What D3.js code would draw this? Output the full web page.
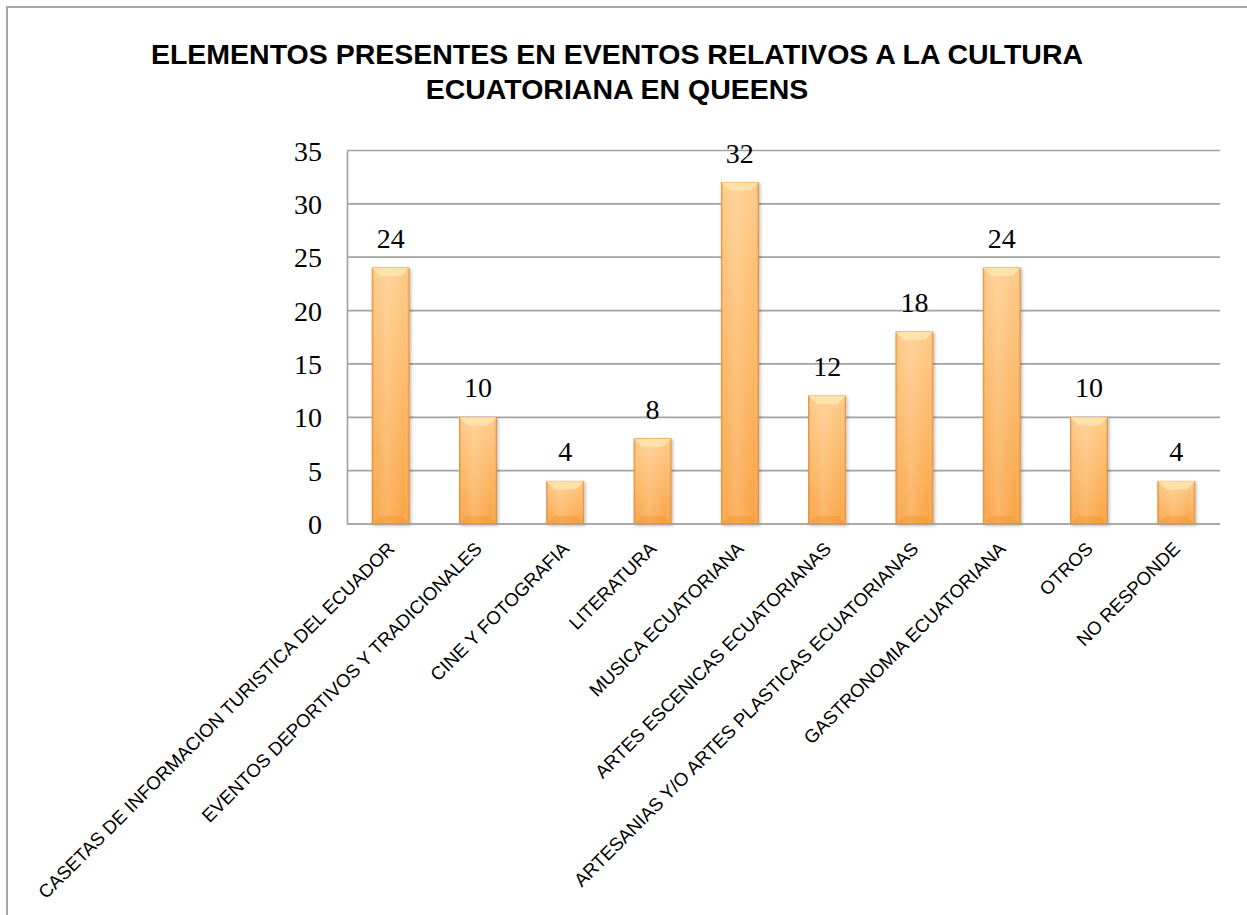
<!DOCTYPE html>
<html>
<head>
<meta charset="utf-8">
<script src="https://cdnjs.cloudflare.com/ajax/libs/d3/7.8.5/d3.min.js"></script>
<style>
  body { margin: 0; background: #fff; }
  #graph { width: 1247px; height: 915px; }
</style>
</head>
<body>
<div id="graph"></div>
<script>
// chart values

var titleLines = [
  'ELEMENTOS PRESENTES EN EVENTOS RELATIVOS A LA CULTURA',
  'ECUATORIANA EN QUEENS'
];

var categories = [
  'CASETAS DE INFORMACION TURISTICA DEL ECUADOR',
  'EVENTOS DEPORTIVOS Y TRADICIONALES',
  'CINE Y FOTOGRAFIA',
  'LITERATURA',
  'MUSICA ECUATORIANA',
  'ARTES ESCENICAS ECUATORIANAS',
  'ARTESANIAS Y/O ARTES PLASTICAS ECUATORIANAS',
  'GASTRONOMIA ECUATORIANA',
  'OTROS',
  'NO RESPONDE'
];

var values = [24, 10, 4, 8, 32, 12, 18, 24, 10, 4];

var yTicks = [0, 5, 10, 15, 20, 25, 30, 35];

var w = 1247;
var h = 915;
var plotLeft = 347;
var plotRight = 1220;
var plotTop = 150.5;
var plotBottom = 524;
var gridColor = '#a3a3a3';

var svg = d3
  .select('#graph')
  .append('svg')
  .attr('width', w)
  .attr('height', h);

// gradients for the bevelled orange bars

var defs = svg.append('defs');

var fillGrad = defs
  .append('linearGradient')
  .attr('id', 'barFill')
  .attr('x1', 0)
  .attr('y1', 0)
  .attr('x2', 0)
  .attr('y2', 1);
fillGrad.append('stop').attr('offset', '0%').attr('stop-color', '#ffcb88');
fillGrad.append('stop').attr('offset', '100%').attr('stop-color', '#f9a444');

var sideGrad = defs
  .append('linearGradient')
  .attr('id', 'barSide')
  .attr('x1', 0)
  .attr('y1', 0)
  .attr('x2', 1)
  .attr('y2', 0);
sideGrad.append('stop').attr('offset', '0%').attr('stop-color', '#d97a1a').attr('stop-opacity', 0.4);
sideGrad.append('stop').attr('offset', '12%').attr('stop-color', '#ffffff').attr('stop-opacity', 0.05);
sideGrad.append('stop').attr('offset', '40%').attr('stop-color', '#ffffff').attr('stop-opacity', 0.18);
sideGrad.append('stop').attr('offset', '88%').attr('stop-color', '#ffffff').attr('stop-opacity', 0);
sideGrad.append('stop').attr('offset', '100%').attr('stop-color', '#d97a1a').attr('stop-opacity', 0.4);

var shadow = defs
  .append('filter')
  .attr('id', 'shadow')
  .attr('x', '-20%')
  .attr('y', '-5%')
  .attr('width', '150%')
  .attr('height', '115%');
shadow
  .append('feDropShadow')
  .attr('dx', 1.5)
  .attr('dy', 1.5)
  .attr('stdDeviation', 1.5)
  .attr('flood-color', '#000')
  .attr('flood-opacity', 0.25);

// outer chart border, it runs past the right and bottom of the window

svg
  .append('rect')
  .attr('x', 7)
  .attr('y', 7)
  .attr('width', 1300)
  .attr('height', 1000)
  .attr('fill', 'none')
  .attr('stroke', '#a6a6a6')
  .attr('stroke-width', 2);

// title

svg
  .append('g')
  .selectAll('text')
  .data(titleLines)
  .enter()
  .append('text')
  .attr('x', 617)
  .attr('y', function(d, i) {
    return 64 + i * 35;
  })
  .attr('text-anchor', 'middle')
  .attr('font-family', 'Liberation Sans, Arial, sans-serif')
  .attr('font-weight', 'bold')
  .attr('font-size', '28.5px')
  .attr('fill', '#000')
  .text(function(d) {
    return d;
  });

// scales

var xscale = d3
  .scaleBand()
  .domain(categories)
  .range([plotLeft, plotRight])
  .paddingInner(0.575)
  .paddingOuter(0.2875);

var yscale = d3
  .scaleLinear()
  .domain([0, 35])
  .range([plotBottom, plotTop]);

// gridlines and the left axis line

svg
  .append('g')
  .selectAll('line')
  .data(yTicks)
  .enter()
  .append('line')
  .attr('x1', plotLeft)
  .attr('x2', plotRight)
  .attr('y1', function(d) {
    return yscale(d);
  })
  .attr('y2', function(d) {
    return yscale(d);
  })
  .attr('stroke', gridColor)
  .attr('stroke-width', 1.7);

var y_axis = d3
  .axisLeft()
  .scale(yscale)
  .tickValues(yTicks)
  .tickSize(0)
  .tickPadding(25);

var yAxisG = svg
  .append('g')
  .attr('transform', 'translate(' + plotLeft + ',0)')
  .call(y_axis);

yAxisG.select('.domain').attr('stroke', gridColor).attr('stroke-width', 1.7);
yAxisG
  .selectAll('text')
  .attr('font-family', 'Liberation Serif, Cambria, serif')
  .attr('font-size', '28px')
  .attr('fill', '#000')
  .attr('dy', '0.34em');

// bars

var barG = svg
  .append('g')
  .selectAll('g')
  .data(values)
  .enter()
  .append('g')
  .attr('filter', 'url(#shadow)');

barG
  .append('rect')
  .attr('x', function(d, i) {
    return xscale(categories[i]);
  })
  .attr('y', function(d) {
    return yscale(d);
  })
  .attr('width', xscale.bandwidth())
  .attr('height', function(d) {
    return yscale(0) - yscale(d);
  })
  .attr('fill', 'url(#barFill)')
  .attr('stroke', '#e0913a')
  .attr('stroke-width', 0.8);

barG
  .append('rect')
  .attr('x', function(d, i) {
    return xscale(categories[i]);
  })
  .attr('y', function(d) {
    return yscale(d);
  })
  .attr('width', xscale.bandwidth())
  .attr('height', function(d) {
    return yscale(0) - yscale(d);
  })
  .attr('fill', 'url(#barSide)');

// top bevel
var bev = 8;
barG
  .append('path')
  .attr('d', function(d, i) {
    var x0 = xscale(categories[i]);
    var x1 = x0 + xscale.bandwidth();
    var y0 = yscale(d);
    return 'M' + x0 + ',' + y0 + 'L' + x1 + ',' + y0 + 'L' + (x1 - bev) + ',' + (y0 + bev) +
      'L' + (x0 + bev) + ',' + (y0 + bev) + 'Z';
  })
  .attr('fill', '#ffe4ad')
  .attr('opacity', 0.9);

// bottom bevel
barG
  .append('path')
  .attr('d', function(d, i) {
    var x0 = xscale(categories[i]);
    var x1 = x0 + xscale.bandwidth();
    var y0 = yscale(0);
    return 'M' + x0 + ',' + y0 + 'L' + x1 + ',' + y0 + 'L' + (x1 - bev) + ',' + (y0 - bev) +
      'L' + (x0 + bev) + ',' + (y0 - bev) + 'Z';
  })
  .attr('fill', '#f08e25')
  .attr('opacity', 0.35);

// bottom axis line drawn over bars

svg
  .append('line')
  .attr('x1', plotLeft)
  .attr('x2', plotRight)
  .attr('y1', yscale(0))
  .attr('y2', yscale(0))
  .attr('stroke', gridColor)
  .attr('stroke-width', 1.7);

// value labels

svg
  .append('g')
  .selectAll('text')
  .data(values)
  .enter()
  .append('text')
  .attr('x', function(d, i) {
    return xscale(categories[i]) + xscale.bandwidth() / 2;
  })
  .attr('y', function(d) {
    return yscale(d) - 20;
  })
  .attr('text-anchor', 'middle')
  .attr('font-family', 'Liberation Serif, Cambria, serif')
  .attr('font-size', '28px')
  .attr('fill', '#000')
  .text(function(d) {
    return d;
  });

// rotated category labels

svg
  .append('g')
  .selectAll('text')
  .data(categories)
  .enter()
  .append('text')
  .attr('transform', function(d) {
    var cx = xscale(d) + xscale.bandwidth() / 2 + 5;
    return 'translate(' + cx + ',' + (yscale(0) + 26) + ') rotate(-45)';
  })
  .attr('text-anchor', 'end')
  .attr('font-family', 'Liberation Sans, Arial, sans-serif')
  .attr('font-size', '18.6px')
  .attr('fill', '#000')
  .text(function(d) {
    return d;
  });
</script>
</body>
</html>
